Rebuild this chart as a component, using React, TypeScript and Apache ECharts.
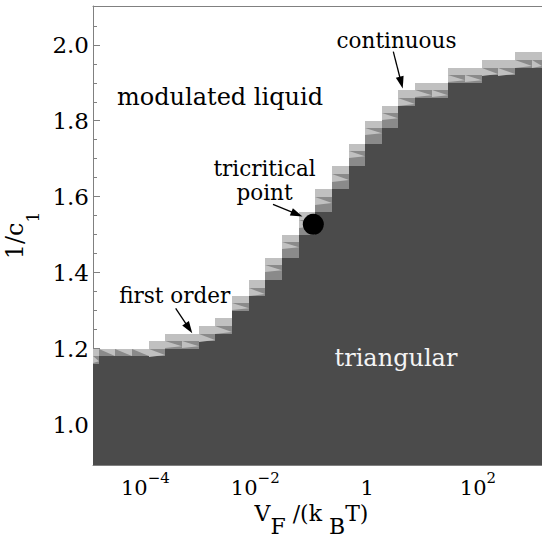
import React, { useEffect, useRef } from 'react';
import * as echarts from 'echarts';

// ---- axis ranges (x in log10 units of V_F/(k_B T)) ----
const X_MIN_LOG = -5.0;
const X_MAX_LOG = 2.82;
const Y_MIN = 0.894;
const Y_MAX = 2.102;
const ROW = 0.02;

// ---- phase-diagram grid columns (log10 edges) ----
const columnEdgesLog = [
  -5.0, -4.9, -4.61, -4.32, -4.03, -3.74, -3.45, -3.16, -2.87, -2.58, -2.29, -2.0,
  -1.71, -1.42, -1.13, -0.84, -0.55, -0.26, 0.03, 0.32, 0.61, 0.9, 1.19, 1.48,
  1.77, 2.06, 2.35, 2.64, 2.82,
];
// top of the uniform "triangular" region per column
const triangularTop = [
  1.16, 1.18, 1.18, 1.18, 1.18, 1.2, 1.2, 1.22, 1.24, 1.3, 1.34, 1.38, 1.44, 1.5,
  1.56, 1.62, 1.68, 1.74, 1.78, 1.84, 1.86, 1.86, 1.9, 1.9, 1.92, 1.92, 1.94, 1.94,
];
// top of the transition band per column
const transitionTop = [
  1.2, 1.2, 1.2, 1.2, 1.22, 1.24, 1.24, 1.26, 1.28, 1.34, 1.38, 1.44, 1.5, 1.56,
  1.62, 1.68, 1.74, 1.8, 1.84, 1.88, 1.9, 1.9, 1.94, 1.94, 1.96, 1.96, 1.98, 1.98,
];

const yTickValues = [1.0, 1.2, 1.4, 1.6, 1.8, 2.0];
const yMinorTickValues = [0.95, 1.05, 1.1, 1.15, 1.25, 1.3, 1.35, 1.45, 1.5, 1.55, 1.65, 1.7, 1.75, 1.85, 1.9, 1.95, 2.05];
const xTickExponents = [-4, -2, 0, 2];

// tricritical point (log10 x, y)
const tricriticalPoint = [-1.163, 1.5275];

// region labels
const regionLabels = ['modulated liquid', 'triangular'];
const regionLabelX = [-2.788, 0.277];
const regionLabelY = [1.863, 1.175];

// annotation labels
const noteLabels = ['continuous', 'first order', 'tricritical\npoint'];
const noteLabelX = [0.286, -3.577, -2.013];
const noteLabelY = [2.01, 1.339, 1.643];

// arrows: from (x, y) -> to (x, y)
const arrowFromX = [0.23, -3.56, -1.865];
const arrowFromY = [1.982, 1.306, 1.58];
const arrowToX = [0.394, -3.271, -1.352];
const arrowToY = [1.885, 1.241, 1.548];

const FONT = "'DejaVu Serif', serif";
const DARK = '#4b4b4b';
const MEDIUM = '#8a8a8a';
const LIGHT = '#c0c0c0';
const AXIS_GRAY = '#808080';

const xLabelShift = [5, 10, 13, 17];

export default function App() {
  const ref = useRef<HTMLDivElement>(null);

  useEffect(() => {
    if (!ref.current) return;
    const chart = echarts.init(ref.current, undefined, { renderer: 'svg' });

    const columnData = triangularTop.map((t, i) => [
      columnEdgesLog[i], columnEdgesLog[i + 1], t, transitionTop[i],
    ]);

    const xRich: any = {
      base: { fontSize: 21, fontFamily: FONT, color: '#000', lineHeight: 24, verticalAlign: 'bottom' },
    };
    xTickExponents.forEach((e, i) => {
      xRich['sup' + i] = {
        fontSize: 15, fontFamily: FONT, color: '#000', lineHeight: 16, verticalAlign: 'bottom',
        padding: [0, xLabelShift[i] * 2, 13, 0],
      };
      xRich['one' + i] = {
        fontSize: 21, fontFamily: FONT, color: '#000', lineHeight: 24, verticalAlign: 'bottom',
        padding: [5, xLabelShift[i] * 2, 0, 0],
      };
    });

    const option: any = {
      animation: false,
      textStyle: { fontFamily: FONT },
      grid: { left: 93, right: 0, top: 6, bottom: 80, outerBoundsMode: 'none' },
      xAxis: [
        {
          type: 'value', min: X_MIN_LOG, max: X_MAX_LOG, position: 'bottom',
          axisLine: { show: true, onZero: false, lineStyle: { color: AXIS_GRAY, width: 1 } },
          axisTick: { show: true, inside: true, length: 5, customValues: xTickExponents, lineStyle: { color: AXIS_GRAY } },
          axisLabel: {
            show: true, margin: 9, customValues: xTickExponents, fontFamily: FONT,
            formatter: (v: number) => {
              const e = Math.round(v);
              const i = xTickExponents.indexOf(e);
              if (e === 0) return `{one${i}|1}`;
              return `{base|10}{sup${i}|${e < 0 ? '\u2212' + -e : e}}`;
            },
            rich: xRich,
          },
          splitLine: { show: false },
          name: '{m|V}{s|F}{m| /(k }{s|B}{e|T)}',
          nameLocation: 'middle',
          nameGap: 43,
          nameTextStyle: {
            fontFamily: FONT,
            rich: {
              m: { fontSize: 22, fontFamily: FONT, color: '#000', lineHeight: 24, padding: [0, 0, 13, 0], verticalAlign: 'bottom' },
              e: { fontSize: 22, fontFamily: FONT, color: '#000', lineHeight: 24, padding: [0, 12, 13, 0], verticalAlign: 'bottom' },
              s: { fontSize: 22, fontFamily: FONT, color: '#000', lineHeight: 24, verticalAlign: 'bottom' },
            },
          },
        },
        {
          type: 'value', min: X_MIN_LOG, max: X_MAX_LOG, position: 'top',
          axisLine: { show: true, onZero: false, lineStyle: { color: AXIS_GRAY, width: 1 } },
          axisTick: { show: false }, axisLabel: { show: false }, splitLine: { show: false },
        },
      ],
      yAxis: [
        {
          type: 'value', min: Y_MIN, max: Y_MAX, position: 'left',
          axisLine: { show: true, onZero: false, lineStyle: { color: AXIS_GRAY, width: 1 } },
          axisTick: { show: true, inside: true, length: 7, customValues: yTickValues, lineStyle: { color: AXIS_GRAY } },
          axisLabel: {
            show: true, margin: 4, customValues: yTickValues,
            formatter: (v: number) => v.toFixed(1),
            fontSize: 23, fontFamily: FONT, color: '#000',
          },
          splitLine: { show: false },
          name: '{m|1/c}{s|1}',
          nameLocation: 'middle',
          nameRotate: 90,
          nameGap: 39,
          nameTextStyle: {
            fontFamily: FONT,
            rich: {
              m: { fontSize: 24, fontFamily: FONT, color: '#000', lineHeight: 26, padding: [0, 0, 15, 0], verticalAlign: 'bottom' },
              s: { fontSize: 17, fontFamily: FONT, color: '#000', lineHeight: 26, verticalAlign: 'bottom' },
            },
          },
        },
        {
          type: 'value', min: Y_MIN, max: Y_MAX, position: 'left',
          axisLine: { show: false, onZero: false },
          axisTick: { show: true, inside: true, length: 4, customValues: yMinorTickValues, lineStyle: { color: AXIS_GRAY } },
          axisLabel: { show: false },
          splitLine: { show: false },
        },
      ],
      series: [
        {
          type: 'custom',
          data: columnData,
          silent: true,
          z: 1,
          renderItem: (params: any, api: any) => {
            const x0 = api.value(0), x1 = api.value(1), dark = api.value(2), top = api.value(3);
            const P = (x: number, y: number) => {
              const p = api.coord([x, y]);
              return [Math.round(p[0]), Math.round(p[1])];
            };
            const [px0, pyBottom] = P(x0, Y_MIN);
            const [px1, pyDark] = P(x1, dark);
            const pyTop = P(x0, top)[1];
            const pyLB = P(x0, top - ROW)[1];
            const w = px1 - px0;
            const children: any[] = [
              { type: 'rect', shape: { x: px0, y: pyDark, width: w, height: pyBottom - pyDark }, style: { fill: DARK } },
              { type: 'rect', shape: { x: px0, y: pyTop, width: w, height: pyLB - pyTop }, style: { fill: LIGHT } },
            ];
            if (pyDark > pyLB + 1) {
              const h = pyDark - pyLB;
              const rowPx = pyLB - pyTop;
              children.push({ type: 'rect', shape: { x: px0, y: pyLB, width: w, height: h }, style: { fill: MEDIUM } });
              children.push({
                type: 'polygon',
                shape: { points: [[px0, pyLB], [px0, pyLB + rowPx], [px1, pyLB + rowPx * 0.75]] },
                style: { fill: LIGHT },
              });
            } else {
              children.push({
                type: 'polygon',
                shape: { points: [[px0, pyTop], [px0, pyLB], [px1, pyLB]] },
                style: { fill: MEDIUM },
              });
            }
            return { type: 'group', children };
          },
        },
        {
          type: 'scatter',
          data: [tricriticalPoint],
          symbol: 'circle',
          symbolSize: 21,
          itemStyle: { color: '#000', opacity: 1 },
          silent: true,
          z: 5,
        },
        {
          type: 'custom',
          silent: true,
          z: 6,
          data: arrowFromX.map((x, i) => [x, arrowFromY[i], arrowToX[i], arrowToY[i]]),
          renderItem: (params: any, api: any) => {
            const p1 = api.coord([api.value(0), api.value(1)]);
            const p2 = api.coord([api.value(2), api.value(3)]);
            const dx = p2[0] - p1[0], dy = p2[1] - p1[1];
            const len = Math.hypot(dx, dy);
            const ux = dx / len, uy = dy / len;
            const headLen = 12, headW = 4;
            const bx = p2[0] - ux * headLen, by = p2[1] - uy * headLen;
            return {
              type: 'group',
              children: [
                { type: 'line', shape: { x1: p1[0], y1: p1[1], x2: bx + ux * 2, y2: by + uy * 2 }, style: { stroke: '#000', lineWidth: 1.3 } },
                {
                  type: 'polygon',
                  shape: { points: [[p2[0], p2[1]], [bx - uy * headW, by + ux * headW], [bx + uy * headW, by - ux * headW]] },
                  style: { fill: '#000' },
                },
              ],
            };
          },
        },
        {
          type: 'custom',
          silent: true,
          z: 7,
          data: regionLabelX.map((x, i) => [x, regionLabelY[i]]),
          renderItem: (params: any, api: any) => {
            const p = api.coord([api.value(0), api.value(1)]);
            return {
              type: 'text', x: p[0], y: p[1],
              style: {
                text: regionLabels[params.dataIndex], fontSize: 24, fontFamily: FONT,
                fill: params.dataIndex === 1 ? '#f4f4f4' : '#000', align: 'center', verticalAlign: 'middle',
              },
            };
          },
        },
        {
          type: 'custom',
          silent: true,
          z: 7,
          data: noteLabelX.map((x, i) => [x, noteLabelY[i]]),
          renderItem: (params: any, api: any) => {
            const p = api.coord([api.value(0), api.value(1)]);
            return {
              type: 'text', x: p[0], y: p[1],
              style: {
                text: noteLabels[params.dataIndex], fontSize: 21.5, lineHeight: 24, fontFamily: FONT,
                fill: '#000', align: 'center', verticalAlign: 'middle',
              },
            };
          },
        },
      ],
    };

    chart.setOption(option);
    return () => chart.dispose();
  }, []);

  return (
    <div
      ref={ref}
      style={{ position: 'absolute', left: 0, top: 0, width: 542, height: 545, background: '#fff' }}
    />
  );
}
